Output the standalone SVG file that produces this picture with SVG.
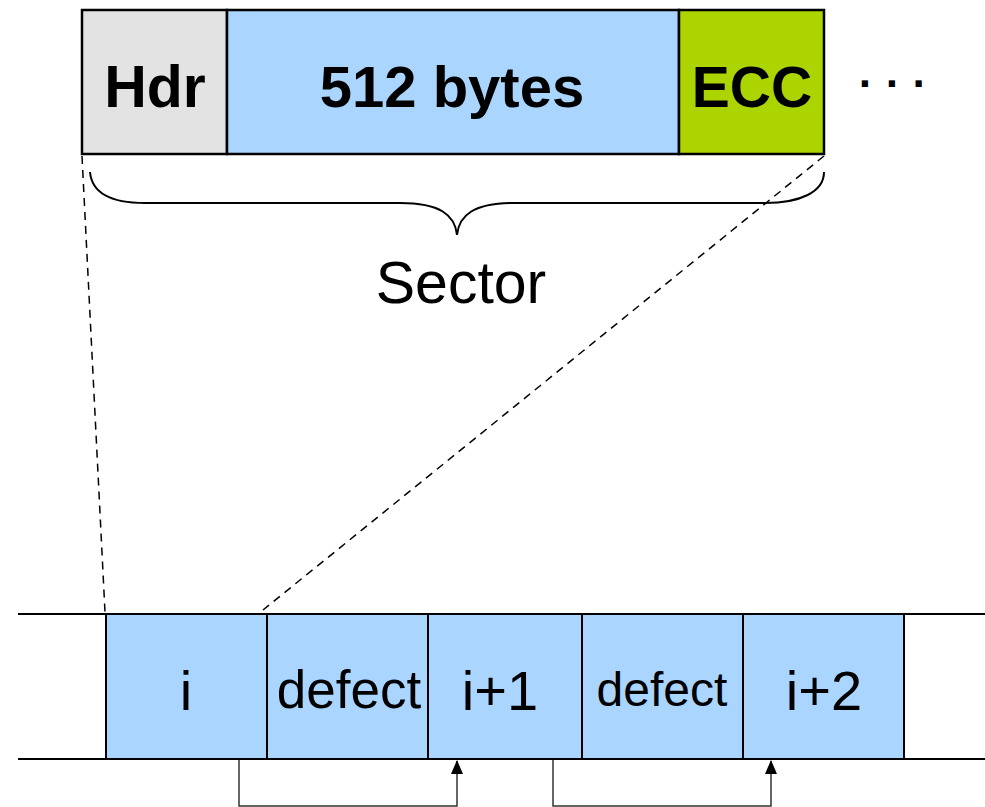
<svg xmlns="http://www.w3.org/2000/svg" width="985" height="807" viewBox="0 0 985 807">
<style>
.b{font-family:"Liberation Sans",Arial,sans-serif;font-weight:bold;fill:#000;text-anchor:middle}
.n{font-family:"Liberation Sans",Arial,sans-serif;fill:#000;text-anchor:middle}
.cell{fill:#aad5ff;stroke:#000;stroke-width:2}
.conn{fill:none;stroke:#333;stroke-width:1.5}
.dash{fill:none;stroke:#000;stroke-width:1.5;stroke-dasharray:8,6}
</style>
<defs>
<marker id="ah" markerWidth="14" markerHeight="12" refX="13" refY="6" orient="auto" markerUnits="userSpaceOnUse" viewBox="0 0 14 12">
<path d="M0,0 L14,6 L0,12 Z" fill="#000"/>
</marker>
</defs>
<g id="sector">
<rect x="82" y="10" width="145" height="144" fill="#e3e3e3" stroke="#000" stroke-width="2.5"/>
<rect x="227" y="10" width="452" height="144" fill="#aad5ff" stroke="#000" stroke-width="2.5"/>
<rect x="679" y="10" width="145" height="144" fill="#acd400" stroke="#000" stroke-width="2.5"/>
<text class="b" x="155" y="107" font-size="59">Hdr</text>
<text class="b" x="452" y="107" font-size="58">512 bytes</text>
<text class="b" x="752" y="107" font-size="57">ECC</text>
<text class="b" x="893" y="99" font-size="44">· · ·</text>
</g>
<g id="brace">
<path d="M90,172 C92,195 115,203 145,203 L400,203 C440,203 455,215 457,235 C459,215 474,203 514,203 L765,203 C800,203 824,192 824,172" fill="none" stroke="#000" stroke-width="2"/>
<text class="n" x="461" y="303" font-size="59">Sector</text>
</g>
<g id="track">
<line x1="18" y1="614" x2="985" y2="614" stroke="#000" stroke-width="2"/>
<line x1="18" y1="759" x2="985" y2="759" stroke="#000" stroke-width="2"/>
</g>
<g id="cell-i"><rect class="cell" x="106" y="614" width="161" height="145"/><text class="n" x="186" y="710" font-size="56">i</text></g>
<g id="cell-defect1"><rect class="cell" x="267" y="614" width="161" height="145"/><text class="n" x="349" y="708" font-size="53">defect</text></g>
<g id="cell-i1"><rect class="cell" x="428" y="614" width="154" height="145"/><text class="n" x="500" y="710" font-size="56">i+1</text></g>
<g id="cell-defect2"><rect class="cell" x="582" y="614" width="161" height="145"/><text class="n" x="662" y="706" font-size="48">defect</text></g>
<g id="cell-i2"><rect class="cell" x="743" y="614" width="161" height="145"/><text class="n" x="824" y="710" font-size="56">i+2</text></g>
<g id="connectors">
<line class="dash" x1="82" y1="156" x2="105" y2="612"/>
<line class="dash" x1="824" y1="156" x2="263" y2="610"/>
<polyline class="conn" points="239,760 239,806 457,806 457,761" marker-end="url(#ah)"/>
<polyline class="conn" points="553,760 553,806 771,806 771,761" marker-end="url(#ah)"/>
</g>
</svg>
